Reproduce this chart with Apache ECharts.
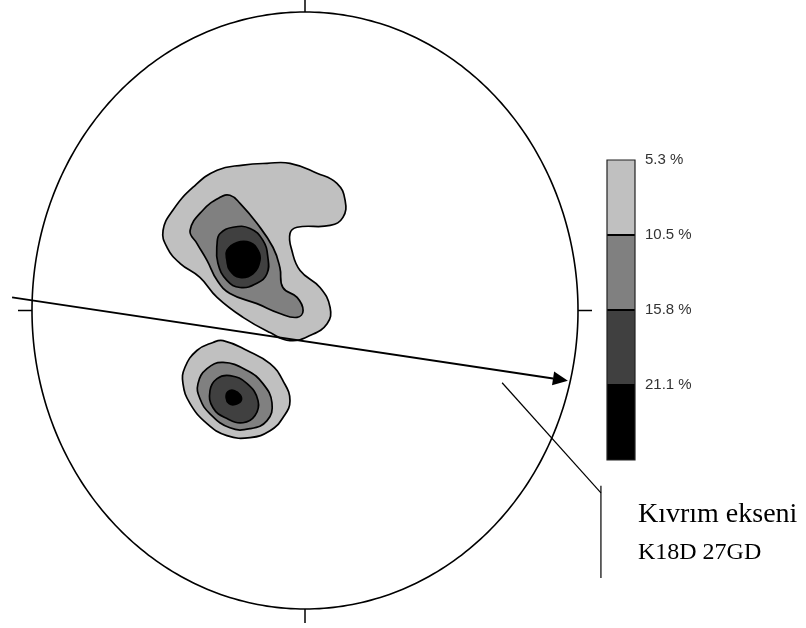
<!DOCTYPE html>
<html>
<head>
<meta charset="utf-8">
<script src="https://cdn.jsdelivr.net/npm/echarts@6/dist/echarts.min.js"></script>
<style>
  html, body { margin: 0; padding: 0; background: #ffffff; }
  #chart { width: 806px; height: 628px; }
</style>
</head>
<body>
<div id="chart"></div>
<script>
// Contour levels (percent of poles per 1% area) and their fills
const levelLabels = ['5.3 %', '10.5 %', '15.8 %', '21.1 %'];
const levelColors = ['#c0c0c0', '#808080', '#404040', '#000000'];

// Contour rings in stereonet units (primitive circle = radius 1), outermost first
const upperLevel1 = [
  [-0.520, 0.268], [-0.484, 0.336], [-0.410, 0.413], [-0.322, 0.470], [-0.227, 0.487],
  [-0.139, 0.493], [-0.055, 0.493], [0.044, 0.460], [0.117, 0.426], [0.147, 0.369],
  [0.139, 0.312], [0.092, 0.285], [-0.029, 0.279], [-0.055, 0.258], [-0.048, 0.201],
  [-0.018, 0.134], [0.055, 0.077], [0.092, 0.010], [0.081, -0.044], [0.018, -0.084],
  [-0.055, -0.101], [-0.128, -0.074], [-0.227, -0.023], [-0.322, 0.044], [-0.385, 0.111],
  [-0.458, 0.158], [-0.505, 0.211]
];
const upperLevel2 = [
  [-0.421, 0.268], [-0.374, 0.336], [-0.311, 0.379], [-0.275, 0.386], [-0.238, 0.359],
  [-0.176, 0.292], [-0.117, 0.211], [-0.092, 0.144], [-0.081, 0.077], [-0.029, 0.044],
  [-0.007, 0.000], [-0.029, -0.023], [-0.092, -0.010], [-0.176, 0.023], [-0.275, 0.057],
  [-0.322, 0.101], [-0.359, 0.168], [-0.396, 0.225]
];
const upperLevel3 = [
  [-0.322, 0.225], [-0.311, 0.258], [-0.264, 0.279], [-0.201, 0.275], [-0.154, 0.235],
  [-0.136, 0.178], [-0.139, 0.124], [-0.176, 0.091], [-0.238, 0.077], [-0.286, 0.101],
  [-0.319, 0.158]
];
const upperLevel4 = [
  [-0.286, 0.201], [-0.249, 0.228], [-0.201, 0.228], [-0.172, 0.201], [-0.165, 0.168],
  [-0.190, 0.124], [-0.238, 0.111], [-0.275, 0.134], [-0.286, 0.168]
];
const lowerLevel1 = [
  [-0.440, -0.191], [-0.396, -0.134], [-0.337, -0.107], [-0.300, -0.101], [-0.212, -0.134],
  [-0.128, -0.178], [-0.081, -0.235], [-0.055, -0.302], [-0.081, -0.359], [-0.128, -0.403],
  [-0.201, -0.426], [-0.286, -0.419], [-0.359, -0.379], [-0.421, -0.312], [-0.447, -0.245]
];
const lowerLevel2 = [
  [-0.392, -0.245], [-0.359, -0.195], [-0.300, -0.174], [-0.212, -0.201], [-0.154, -0.245],
  [-0.121, -0.309], [-0.139, -0.369], [-0.201, -0.396], [-0.275, -0.393], [-0.348, -0.346],
  [-0.385, -0.295]
];
const lowerLevel3 = [
  [-0.348, -0.268], [-0.322, -0.228], [-0.275, -0.218], [-0.212, -0.245], [-0.172, -0.302],
  [-0.183, -0.352], [-0.227, -0.376], [-0.286, -0.362], [-0.337, -0.326]
];
const lowerLevel4 = [
  [-0.289, -0.292], [-0.282, -0.272], [-0.260, -0.268], [-0.238, -0.282], [-0.234, -0.302],
  [-0.256, -0.315], [-0.278, -0.312]
];

// Fold axis trace (great circle chord) and its annotation
const foldAxisTrace = [[-1.073, 0.044], [0.963, -0.235]];
const leaderLine = [[0.722, -0.242], [1.084, -0.611]];
const leaderBar = [[1.084, -0.587], [1.084, -0.896]];
const foldAxisTitle = 'Kıvrım ekseni';
const foldAxisValue = 'K18D 27GD';

const contours = [
  { level: 0, points: upperLevel1 },
  { level: 1, points: upperLevel2 },
  { level: 2, points: upperLevel3 },
  { level: 3, points: upperLevel4 },
  { level: 0, points: lowerLevel1 },
  { level: 1, points: lowerLevel2 },
  { level: 2, points: lowerLevel3 },
  { level: 3, points: lowerLevel4 }
];

const chart = echarts.init(document.getElementById('chart'), null, { renderer: 'canvas' });

const hiddenAxis = {
  show: false, axisLine: { show: false }, axisTick: { show: false },
  axisLabel: { show: false }, splitLine: { show: false }
};

const option = {
  backgroundColor: '#ffffff',
  animation: false,
  grid: [
    { left: 32, top: 12, width: 546, height: 597 },
    { left: 607, top: 160, width: 28, height: 300 }
  ],
  xAxis: [
    Object.assign({ type: 'value', min: -1, max: 1, gridIndex: 0 }, hiddenAxis),
    Object.assign({ type: 'value', min: 0, max: 1, gridIndex: 1 }, hiddenAxis)
  ],
  yAxis: [
    Object.assign({ type: 'value', min: -1, max: 1, gridIndex: 0 }, hiddenAxis),
    {
      type: 'value', gridIndex: 1, min: 0, max: 4, interval: 1, inverse: true,
      position: 'right',
      axisLine: { show: false }, axisTick: { show: false }, splitLine: { show: false },
      axisLabel: {
        show: true, margin: 10, color: '#333333', fontSize: 15,
        fontFamily: '"Liberation Sans", Arial, sans-serif',
        formatter: v => levelLabels[v] || ''
      }
    }
  ],
  series: [
    // Density contours
    {
      type: 'custom', xAxisIndex: 0, yAxisIndex: 0, clip: false, z: 2,
      data: contours.map(c => c.points[0]),
      renderItem(params, api) {
        const c = contours[params.dataIndex];
        return {
          type: 'polygon',
          shape: { points: c.points.map(p => api.coord(p)), smooth: 0.45 },
          style: { fill: levelColors[c.level], stroke: '#000000', lineWidth: 1.7 }
        };
      }
    },
    // Primitive circle with cardinal ticks
    {
      type: 'custom', xAxisIndex: 0, yAxisIndex: 0, clip: false, z: 3,
      data: [[0, 0]],
      renderItem(params, api) {
        const ring = [];
        for (let i = 0; i <= 360; i++) {
          const a = i * Math.PI / 180;
          ring.push(api.coord([Math.cos(a), Math.sin(a)]));
        }
        const n = api.coord([0, 1]), s = api.coord([0, -1]);
        const w = api.coord([-1, 0]), e = api.coord([1, 0]);
        const t = 14;
        const tickStyle = { stroke: '#000000', lineWidth: 1.5 };
        return {
          type: 'group',
          children: [
            { type: 'polyline', shape: { points: ring }, style: { fill: null, stroke: '#000000', lineWidth: 1.6 } },
            { type: 'line', shape: { x1: n[0], y1: n[1], x2: n[0], y2: n[1] - t }, style: tickStyle },
            { type: 'line', shape: { x1: s[0], y1: s[1], x2: s[0], y2: s[1] + t }, style: tickStyle },
            { type: 'line', shape: { x1: w[0], y1: w[1], x2: w[0] - t, y2: w[1] }, style: tickStyle },
            { type: 'line', shape: { x1: e[0], y1: e[1], x2: e[0] + t, y2: e[1] }, style: tickStyle }
          ]
        };
      }
    },
    // Fold axis arrow and leader to its label
    {
      type: 'custom', xAxisIndex: 0, yAxisIndex: 0, clip: false, z: 4,
      data: [foldAxisTrace[0]],
      renderItem(params, api) {
        const a = api.coord(foldAxisTrace[0]);
        const b = api.coord(foldAxisTrace[1]);
        const dx = b[0] - a[0], dy = b[1] - a[1];
        const len = Math.sqrt(dx * dx + dy * dy);
        const ux = dx / len, uy = dy / len;
        const headLen = 15, headHalf = 7;
        const bx = b[0] - ux * headLen, by = b[1] - uy * headLen;
        const l1 = api.coord(leaderLine[0]), l2 = api.coord(leaderLine[1]);
        const v1 = api.coord(leaderBar[0]), v2 = api.coord(leaderBar[1]);
        const tx = v1[0] + 37;
        return {
          type: 'group',
          children: [
            { type: 'line', shape: { x1: a[0], y1: a[1], x2: bx, y2: by }, style: { stroke: '#000000', lineWidth: 2 } },
            {
              type: 'polygon',
              shape: { points: [[b[0], b[1]], [bx - uy * headHalf, by + ux * headHalf], [bx + uy * headHalf, by - ux * headHalf]] },
              style: { fill: '#000000' }
            },
            { type: 'line', shape: { x1: l1[0], y1: l1[1], x2: l2[0], y2: l2[1] }, style: { stroke: '#000000', lineWidth: 1.2 } },
            { type: 'line', shape: { x1: v1[0], y1: v1[1], x2: v2[0], y2: v2[1] }, style: { stroke: '#000000', lineWidth: 1.2 } },
            {
              type: 'text',
              style: {
                x: tx, y: v1[1] + 28.5, text: foldAxisTitle, fill: '#000000',
                font: '28px "Liberation Serif", "Times New Roman", serif',
                verticalAlign: 'middle', align: 'left'
              }
            },
            {
              type: 'text',
              style: {
                x: tx, y: v1[1] + 67, text: foldAxisValue, fill: '#000000',
                font: '24px "Liberation Serif", "Times New Roman", serif',
                verticalAlign: 'middle', align: 'left'
              }
            }
          ]
        };
      }
    },
    // Contour level colour bar
    {
      type: 'custom', xAxisIndex: 1, yAxisIndex: 1, clip: false, z: 2,
      data: levelColors.map((c, i) => [0, i]),
      renderItem(params, api) {
        const i = params.dataIndex;
        const p0 = api.coord([0, i]);
        const p1 = api.coord([1, i + 1]);
        const children = [{
          type: 'rect',
          shape: { x: p0[0], y: p0[1], width: p1[0] - p0[0], height: p1[1] - p0[1] },
          style: { fill: levelColors[i], stroke: null }
        }];
        if (i > 0) {
          children.push({
            type: 'line',
            shape: { x1: p0[0], y1: p0[1], x2: p1[0], y2: p0[1] },
            style: { stroke: '#000000', lineWidth: 2 }
          });
        }
        return { type: 'group', children };
      }
    },
    {
      type: 'custom', xAxisIndex: 1, yAxisIndex: 1, clip: false, z: 3,
      data: [[0, 0]],
      renderItem(params, api) {
        const p0 = api.coord([0, 0]);
        const p1 = api.coord([1, levelColors.length]);
        return {
          type: 'rect',
          shape: { x: p0[0], y: p0[1], width: p1[0] - p0[0], height: p1[1] - p0[1] },
          style: { fill: null, stroke: '#222222', lineWidth: 1.2 }
        };
      }
    }
  ]
};

chart.setOption(option);
</script>
</body>
</html>
